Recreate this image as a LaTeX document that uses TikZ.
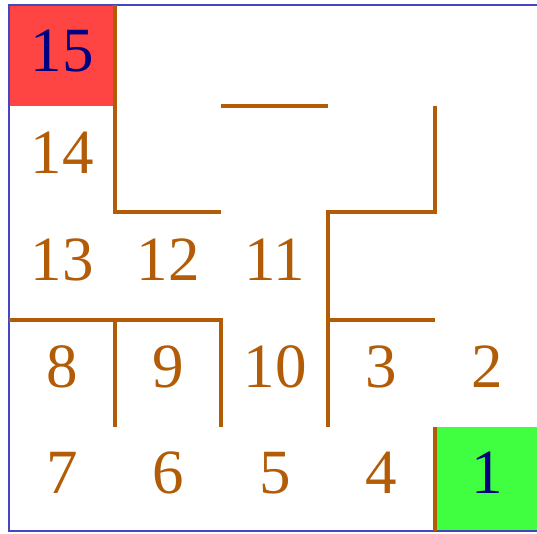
\documentclass[tikz,border=0pt]{standalone}
\usepackage{fontspec}
\setmainfont{Liberation Serif}
\definecolor{wallc}{RGB}{178,92,8}
\definecolor{borderc}{RGB}{70,70,190}
\definecolor{startc}{RGB}{255,68,68}
\definecolor{goalc}{RGB}{64,255,64}
\definecolor{navyc}{RGB}{0,0,128}
\begin{document}
\begin{tikzpicture}[x=1pt,y=-1pt,
  wall/.style={draw=wallc,line width=3.8pt,line cap=butt,line join=miter},
  num/.style={anchor=base,inner sep=0pt,text=wallc,font=\fontsize{63}{63}\selectfont},
  hi/.style={num,text=navyc}]
\useasboundingbox (0,0) rectangle (537,533);
% cells
\fill[startc] (9,5) rectangle (115,106);
\fill[goalc] (435,427) rectangle (540,531);
% border
\draw[borderc,line width=2pt] (9,5) rectangle (539,531);
% walls
\draw[wall] (115,5) -- (115,212) -- (221,212);
\draw[wall] (221,106) -- (328,106);
\draw[wall] (435,106) -- (435,212) -- (328,212) -- (328,427);
\draw[wall] (328,320) -- (435,320);
\draw[wall] (9,320) -- (221,320) -- (221,427);
\draw[wall] (115,320) -- (115,427);
\draw[wall] (435,427) -- (435,531);
% numbers
\node[hi]  (n15) at (62,71) {15};
\node[num] (n14) at (62,173) {14};
\node[num] (n13) at (62,280) {13};
\node[num] (n12) at (168,280) {12};
\node[num] (n11) at (275,280) {11};
\node[num] (n8)  at (62,387) {8};
\node[num] (n9)  at (168,387) {9};
\node[num] (n10) at (275,387) {10};
\node[num] (n3)  at (381,387) {3};
\node[num] (n2)  at (487,387) {2};
\node[num] (n7)  at (62,493) {7};
\node[num] (n6)  at (168,493) {6};
\node[num] (n5)  at (275,493) {5};
\node[num] (n4)  at (381,493) {4};
\node[hi]  (n1)  at (487,493) {1};
\end{tikzpicture}
\end{document}
